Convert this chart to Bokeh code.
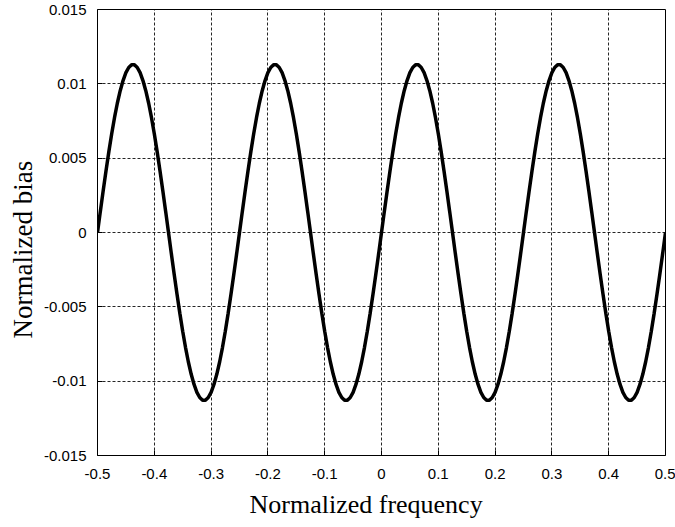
from bokeh.plotting import figure
from bokeh.models import FixedTicker, Range1d, Title
from bokeh.embed import file_html
from bokeh.resources import INLINE

# Normalized frequency samples (step 0.005) and the bias
freq = [round(-0.5 + 0.005 * i, 3) for i in range(201)]
bias = [
    0.0, 0.00142, 0.00281, 0.00416, 0.00544, 0.00664, 0.00774, 0.00871, 0.00954, 0.01022,
    0.01075, 0.01110, 0.01128, 0.01128, 0.01110, 0.01075, 0.01022, 0.00954, 0.00871, 0.00774,
    0.00664, 0.00544, 0.00416, 0.00281, 0.00142,
    0.0, -0.00142, -0.00281, -0.00416, -0.00544, -0.00664, -0.00774, -0.00871, -0.00954, -0.01022,
    -0.01075, -0.01110, -0.01128, -0.01128, -0.01110, -0.01075, -0.01022, -0.00954, -0.00871, -0.00774,
    -0.00664, -0.00544, -0.00416, -0.00281, -0.00142,
    0.0, 0.00142, 0.00281, 0.00416, 0.00544, 0.00664, 0.00774, 0.00871, 0.00954, 0.01022,
    0.01075, 0.01110, 0.01128, 0.01128, 0.01110, 0.01075, 0.01022, 0.00954, 0.00871, 0.00774,
    0.00664, 0.00544, 0.00416, 0.00281, 0.00142,
    0.0, -0.00142, -0.00281, -0.00416, -0.00544, -0.00664, -0.00774, -0.00871, -0.00954, -0.01022,
    -0.01075, -0.01110, -0.01128, -0.01128, -0.01110, -0.01075, -0.01022, -0.00954, -0.00871, -0.00774,
    -0.00664, -0.00544, -0.00416, -0.00281, -0.00142,
    0.0, 0.00142, 0.00281, 0.00416, 0.00544, 0.00664, 0.00774, 0.00871, 0.00954, 0.01022,
    0.01075, 0.01110, 0.01128, 0.01128, 0.01110, 0.01075, 0.01022, 0.00954, 0.00871, 0.00774,
    0.00664, 0.00544, 0.00416, 0.00281, 0.00142,
    0.0, -0.00142, -0.00281, -0.00416, -0.00544, -0.00664, -0.00774, -0.00871, -0.00954, -0.01022,
    -0.01075, -0.01110, -0.01128, -0.01128, -0.01110, -0.01075, -0.01022, -0.00954, -0.00871, -0.00774,
    -0.00664, -0.00544, -0.00416, -0.00281, -0.00142,
    0.0, 0.00142, 0.00281, 0.00416, 0.00544, 0.00664, 0.00774, 0.00871, 0.00954, 0.01022,
    0.01075, 0.01110, 0.01128, 0.01128, 0.01110, 0.01075, 0.01022, 0.00954, 0.00871, 0.00774,
    0.00664, 0.00544, 0.00416, 0.00281, 0.00142,
    0.0, -0.00142, -0.00281, -0.00416, -0.00544, -0.00664, -0.00774, -0.00871, -0.00954, -0.01022,
    -0.01075, -0.01110, -0.01128, -0.01128, -0.01110, -0.01075, -0.01022, -0.00954, -0.00871, -0.00774,
    -0.00664, -0.00544, -0.00416, -0.00281, -0.00142,
    0.0,
]

x_ticks = [-0.5, -0.4, -0.3, -0.2, -0.1, 0, 0.1, 0.2, 0.3, 0.4, 0.5]
x_labels = ["-0.5", "-0.4", "-0.3", "-0.2", "-0.1", "0", "0.1", "0.2", "0.3", "0.4", "0.5"]
y_ticks = [-0.015, -0.01, -0.005, 0, 0.005, 0.01, 0.015]
y_labels = ["-0.015", "-0.01", "-0.005", "0", "0.005", "0.01", "0.015"]
x_title = "Normalized frequency"
y_title = "Normalized bias"

p = figure(width=675, height=527, output_backend="svg", toolbar_location=None,
           x_range=Range1d(-0.5, 0.5), y_range=Range1d(-0.015, 0.015),
           min_border_left=97, min_border_right=10, min_border_top=9, min_border_bottom=72)

p.line(freq, bias, line_color="black", line_width=3.5)

p.outline_line_color = "black"
p.outline_line_width = 1
p.background_fill_color = "white"
p.border_fill_color = "white"

for ax, ticks, labels in ((p.xaxis[0], x_ticks, x_labels), (p.yaxis[0], y_ticks, y_labels)):
    ax.ticker = FixedTicker(ticks=ticks)
    ax.major_label_overrides = {t: l for t, l in zip(ticks, labels)}
    ax.major_label_text_font = "Liberation Sans"
    ax.major_label_text_font_size = "15px"
    ax.major_label_text_color = "black"
    ax.axis_line_color = None
    ax.major_tick_in = 5
    ax.major_tick_out = 0
    ax.major_tick_line_color = "black"
    ax.minor_tick_line_color = None

p.xaxis[0].major_label_standoff = 13
p.yaxis[0].major_label_standoff = 11

p.add_layout(Title(text=x_title, align="left", offset=152, standoff=12,
                   text_font="Liberation Serif", text_font_size="26px",
                   text_font_style="normal", text_color="black"), "below")
p.add_layout(Title(text=y_title, align="left", offset=117, standoff=6,
                   text_font="Liberation Serif", text_font_size="27px",
                   text_font_style="normal", text_color="black"), "left")

for g in (p.xgrid[0], p.ygrid[0]):
    g.grid_line_color = "black"
    g.grid_line_width = 1
    g.grid_line_dash = "3 2"
    g.grid_line_alpha = 0.85
p.xgrid[0].ticker = FixedTicker(ticks=x_ticks)
p.ygrid[0].ticker = FixedTicker(ticks=y_ticks)

open("out.html", "w").write(file_html(p, INLINE))
